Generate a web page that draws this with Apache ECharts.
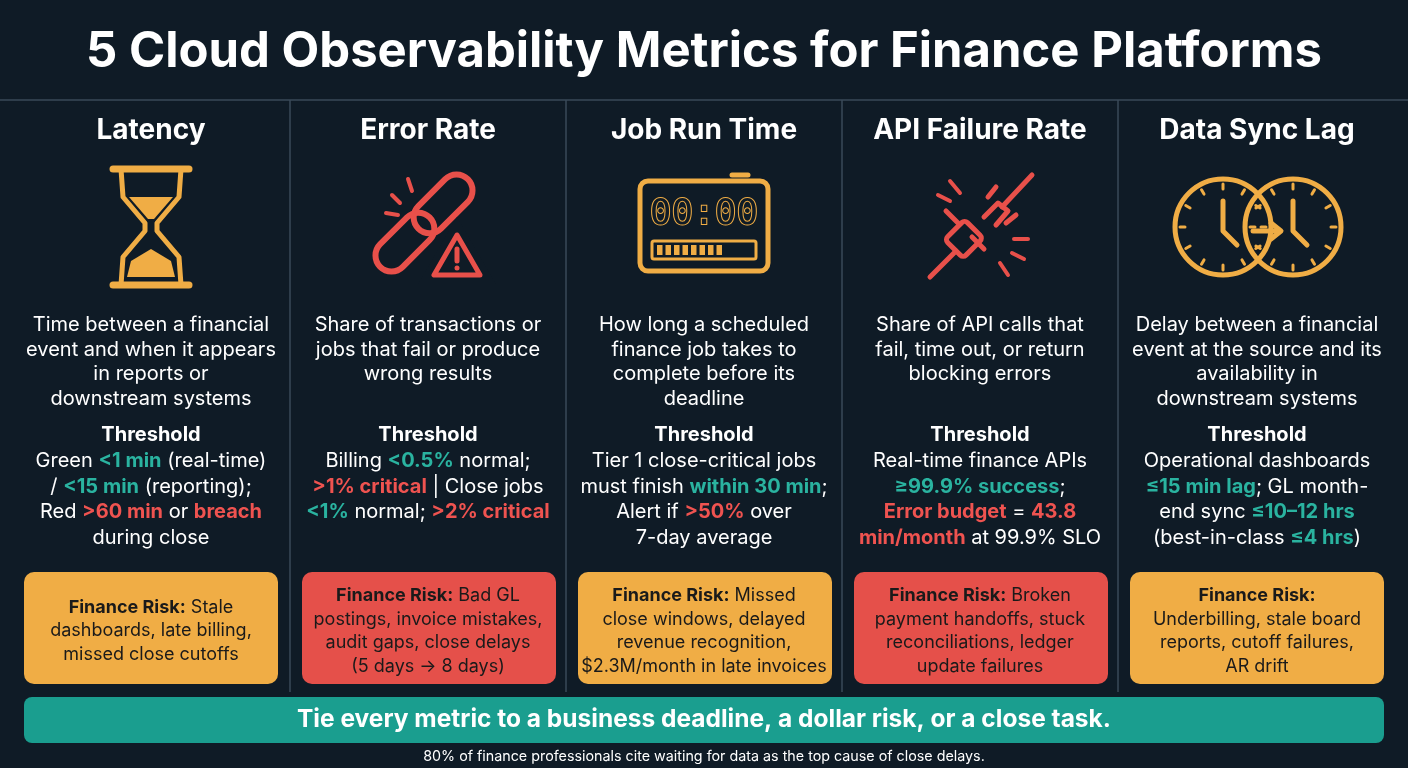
<!DOCTYPE html>
<html><head><meta charset="utf-8">
<script src="https://cdn.jsdelivr.net/npm/echarts@6/dist/echarts.min.js"></script>
<style>html,body{margin:0;background:#0f1b26}#c{width:1408px;height:768px}</style>
</head><body><div id="c"></div>
<script>
const title = "5 Cloud Observability Metrics for Finance Platforms";
const metrics = ["Latency","Error Rate","Job Run Time","API Failure Rate","Data Sync Lag"];
const iconColors = ["#f0ad45","#e8504a","#f0ad45","#e8504a","#f0ad45"];
const descriptions = [
 ["Time between a financial","event and when it appears","in reports or","downstream systems"],
 ["Share of transactions or","jobs that fail or produce","wrong results"],
 ["How long a scheduled","finance job takes to","complete before its","deadline"],
 ["Share of API calls that","fail, time out, or return","blocking errors"],
 ["Delay between a financial","event at the source and its","availability in","downstream systems"]
];
const thresholds = [
 ["Green {g|<1 min} (real-time)","/ {g|<15 min} (reporting);","Red {r|>60 min} or {r|breach}","during close"],
 ["Billing {g|<0.5%} normal;","{r|>1% critical} | Close jobs","{g|<1%} normal; {r|>2% critical}"],
 ["Tier 1 close-critical jobs","must finish {g|within 30 min};","Alert if {r|>50%} over","7-day average"],
 ["Real-time finance APIs","{g|≥99.9% success};","{r|Error budget} = {r|43.8}","{r|min/month} at 99.9% SLO"],
 ["Operational dashboards","{g|≤15 min lag}; GL month-","end sync {g|≤10–12 hrs}","(best-in-class {g|≤4 hrs})"]
];
const risks = [
 ["{b|Finance Risk:} Stale","dashboards, late billing,","missed close cutoffs"],
 ["{b|Finance Risk:} Bad GL","postings, invoice mistakes,","audit gaps, close delays","(5 days → 8 days)"],
 ["{b|Finance Risk:} Missed","close windows, delayed","revenue recognition,","$2.3M/month in late invoices"],
 ["{b|Finance Risk:} Broken","payment handoffs, stuck","reconciliations, ledger","update failures"],
 ["{b|Finance Risk:}","Underbilling, stale board","reports, cutoff failures,","AR drift"]
];
const riskColors = ["#f0ad45","#e5504a","#f0ad45","#e5504a","#f0ad45"];
const banner = "Tie every metric to a business deadline, a dollar risk, or a close task.";
const footer = "80% of finance professionals cite waiting for data as the top cause of close delays.";

const FONT = "Inter, 'Noto Sans', sans-serif";
const BG = '#0f1b26';
const G = [];
const txt = (x,y,s,size,weight,fill,extra) => G.push({type:'text',x,y,silent:true,style:Object.assign({text:s,fontSize:size,fontWeight:weight,fontFamily:FONT,fill,align:'center',verticalAlign:'middle'},extra||{})});
txt(704,52,title,49,'bold','#ffffff');
G.push({type:'line',shape:{x1:0,y1:100,x2:1408,y2:100},style:{stroke:'#3a4a58',lineWidth:1.5}});
[290,566,842,1118].forEach(x=>G.push({type:'line',shape:{x1:x,y1:100,x2:x,y2:692},style:{stroke:'#3a4a58',lineWidth:1.5}}));
const cx = [151,428,704,980,1257];
const rich = {g:{fill:'#2ab3a0',fontWeight:'bold',fontSize:20,fontFamily:FONT},r:{fill:'#ef5350',fontWeight:'bold',fontSize:20,fontFamily:FONT},b:{fontWeight:'bold',fontSize:18,fontFamily:FONT,fill:'#1a1a1a'}};

function icon(i,x){
  const c = iconColors[i], st={stroke:c,lineWidth:5,fill:null,lineCap:'round',lineJoin:'round'};
  const ch=[];
  if(i===0){
    ch.push({type:'line',shape:{x1:-38,y1:-58,x2:38,y2:-58},style:{...st,lineWidth:7}});
    ch.push({type:'line',shape:{x1:-38,y1:58,x2:38,y2:58},style:{...st,lineWidth:7}});
    ch.push({type:'polyline',shape:{points:[[-30,-58],[-28,-30],[-6,-4],[-6,4],[-28,30],[-30,58]]},style:st});
    ch.push({type:'polyline',shape:{points:[[30,-58],[28,-30],[6,-4],[6,4],[28,30],[30,58]]},style:st});
    ch.push({type:'polygon',shape:{points:[[-22,-30],[22,-30],[3,-8],[-3,-8]]},style:{fill:c}});
    ch.push({type:'polygon',shape:{points:[[-24,50],[24,50],[20,34],[0,22],[-20,34]]},style:{fill:c}});
  } else if(i===1){
    ch.push({type:'rect',x:-4,y:-4,rotation:Math.PI/4,shape:{x:-62,y:-16,width:70,height:32,r:16},style:{...st,lineWidth:6}});
    ch.push({type:'rect',x:-4,y:-4,rotation:Math.PI/4,shape:{x:-8,y:-16,width:70,height:32,r:16},style:{...st,lineWidth:6}});
    ch.push({type:'polygon',shape:{points:[[0,52],[58,52],[29,2]]},style:{fill:BG,stroke:BG,lineWidth:12}});
    ch.push({type:'polygon',shape:{points:[[6,48],[52,48],[29,8]]},style:st});
    ch.push({type:'line',shape:{x1:29,y1:22,x2:29,y2:34},style:st});
    ch.push({type:'circle',shape:{cx:29,cy:41,r:2.5},style:{fill:c}});
    [[-36,-32,-28,-24],[-42,-14,-30,-12],[-20,-48,-16,-36]].forEach(p=>ch.push({type:'line',shape:{x1:p[0],y1:p[1],x2:p[2],y2:p[3]},style:{...st,lineWidth:4}}));
  } else if(i===2){
    ch.push({type:'rect',shape:{x:-64,y:-46,width:128,height:90,r:8},style:st});
    ch.push({type:'line',shape:{x1:28,y1:-52,x2:44,y2:-52},style:st});
    ch.push({type:'text',style:{text:'00:00',x:0,y:-12,fontSize:36,fontFamily:"'DejaVu Sans Mono', monospace",fill:BG,stroke:c,lineWidth:2,align:'center',verticalAlign:'middle'}});
    ch.push({type:'rect',shape:{x:-52,y:14,width:104,height:18,r:2},style:{...st,lineWidth:3}});
    for(let k=0;k<8;k++) ch.push({type:'rect',shape:{x:-47+k*8.5,y:18,width:5.5,height:10},style:{fill:c}});
  } else if(i===3){
    ch.push({type:'line',shape:{x1:-50,y1:50,x2:-24,y2:24},style:st});
    ch.push({type:'rect',x:-14,y:14,rotation:Math.PI/4,shape:{x:-14,y:-16,width:28,height:26,r:4},style:st});
    ch.push({type:'line',shape:{x1:-22,y1:-4,x2:-34,y2:-16},style:st});
    ch.push({type:'line',shape:{x1:4,y1:22,x2:-8,y2:10},style:st});
    ch.push({type:'polyline',shape:{points:[[4,-10],[18,-24],[28,-16],[16,-2]]},style:st});
    ch.push({type:'line',shape:{x1:22,y1:-20,x2:52,y2:-52},style:st});
    ch.push({type:'line',shape:{x1:8,y1:-30,x2:16,y2:-40},style:st});
    ch.push({type:'line',shape:{x1:26,y1:-4,x2:36,y2:-12},style:st});
    [[-30,-46,-20,-34],[-42,-32,-30,-26],[32,26,44,32],[20,36,28,48],[34,12,48,12]].forEach(p=>ch.push({type:'line',shape:{x1:p[0],y1:p[1],x2:p[2],y2:p[3]},style:{...st,lineWidth:4}}));
  } else {
    [[-34,0],[36,0]].forEach(([ox])=>{
      ch.push({type:'circle',shape:{cx:ox,cy:0,r:48},style:st});
      for(let k=0;k<12;k++){const a=k*Math.PI/6;ch.push({type:'line',shape:{x1:ox+Math.cos(a)*38,y1:Math.sin(a)*38,x2:ox+Math.cos(a)*43,y2:Math.sin(a)*43},style:{...st,lineWidth:3}});}
      ch.push({type:'polyline',shape:{points:[[ox,-26],[ox,4],[ox+14,18]]},style:st});
    });
    ch.push({type:'line',shape:{x1:-4,y1:4,x2:22,y2:4},style:st});
    ch.push({type:'polyline',shape:{points:[[14,-4],[24,4],[14,12]]},style:st});
  }
  G.push({type:'group',x,y:227,children:ch});
}

for(let i=0;i<5;i++){
  const x=cx[i];
  txt(x,131,metrics[i],28,'bold','#ffffff');
  icon(i,x);
  descriptions[i].forEach((s,k)=>txt(x,325+k*24.5,s,20,'normal','#ffffff'));
  txt(x,435,'Threshold',20,'bold','#ffffff');
  thresholds[i].forEach((s,k)=>txt(x,461+k*25.5,s,20,'normal','#ffffff',{rich}));
  const bx=[24,302,578,854,1130][i];
  G.push({type:'rect',shape:{x:bx,y:572,width:254,height:112,r:10},style:{fill:riskColors[i]}});
  const n=risks[i].length, lh=23.5, y0=631-(n-1)*lh/2;
  risks[i].forEach((s,k)=>txt(x,y0+k*lh,s,18,'normal','#1a1a1a',{rich}));
}
G.push({type:'rect',shape:{x:24,y:697,width:1360,height:46,r:8},style:{fill:'#1a9e8f'}});
txt(704,720,banner,24.5,'bold','#ffffff');
txt(704,757,footer,14.3,'normal','#ffffff');

const chart = echarts.init(document.getElementById('c'));
chart.setOption({backgroundColor:BG,graphic:{elements:G}});
</script></body></html>
